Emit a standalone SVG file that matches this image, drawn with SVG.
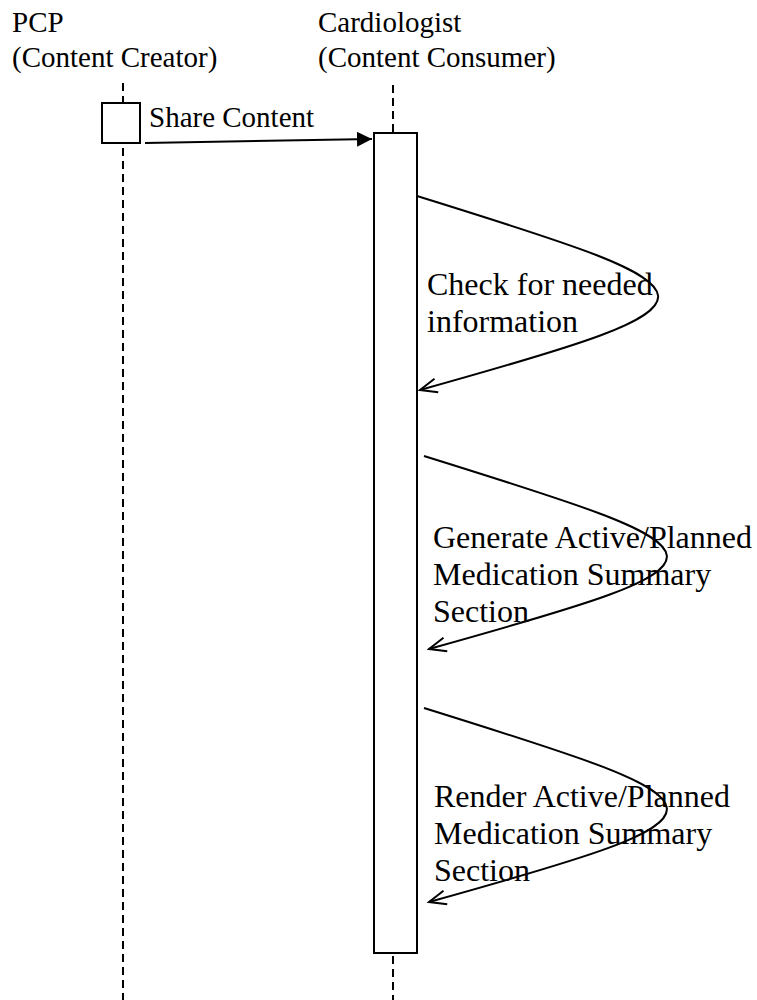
<svg xmlns="http://www.w3.org/2000/svg" width="757" height="1000" viewBox="0 0 757 1000">
<style>
text{font-family:"Liberation Serif","Times New Roman",serif;fill:#000}
.hdr{font-size:29px}
.lbl{font-size:32px}
.life{stroke:#000;stroke-width:2;stroke-dasharray:8 5;fill:none}
.box{fill:#fff;stroke:#000;stroke-width:2}
.msg{fill:none;stroke:#000;stroke-width:2}
</style>
<defs>
<marker id="filled" viewBox="0 0 15 15" refX="15" refY="7.5" markerWidth="15" markerHeight="15" orient="auto" markerUnits="userSpaceOnUse">
<path d="M0,0 L15,7.5 L0,15 z" fill="#000"/>
</marker>
<marker id="open" viewBox="0 0 22 20" refX="20" refY="10" markerWidth="22" markerHeight="20" orient="auto" markerUnits="userSpaceOnUse">
<path d="M3,3 L20,10 L3,17" fill="none" stroke="#000" stroke-width="2"/>
</marker>
</defs>
<g id="pcp">
<text class="hdr" x="12" y="32">PCP</text>
<text class="hdr" x="12" y="67">(Content Creator)</text>
<line class="life" x1="123" y1="83" x2="123" y2="1000"/>
<rect class="box" x="102" y="103" width="38" height="40"/>
</g>
<g id="cardiologist">
<text class="hdr" x="318" y="32">Cardiologist</text>
<text class="hdr" x="318" y="67">(Content Consumer)</text>
<line class="life" x1="393" y1="85" x2="393" y2="1000"/>
<rect class="box" x="374" y="133" width="43" height="820"/>
</g>
<g id="connectors">
<line class="msg" x1="145" y1="143" x2="372" y2="139" marker-end="url(#filled)"/>
<path class="msg" d="M417,196 C733,294 743,300 420,390" marker-end="url(#open)"/>
<path class="msg" d="M424,456 C742,555 752,559 429,649" marker-end="url(#open)"/>
<path class="msg" d="M424,708 C742,807 752,812 429,902" marker-end="url(#open)"/>
</g>
<g id="labels">
<text class="hdr" x="149" y="127">Share Content</text>
<text class="lbl" x="427" y="295">Check for needed</text>
<text class="lbl" x="427" y="332">information</text>
<text class="lbl" x="433" y="548">Generate Active/Planned</text>
<text class="lbl" x="433" y="585">Medication Summary</text>
<text class="lbl" x="433" y="622">Section</text>
<text class="lbl" x="434" y="807">Render Active/Planned</text>
<text class="lbl" x="434" y="844">Medication Summary</text>
<text class="lbl" x="434" y="881">Section</text>
</g>
</svg>
